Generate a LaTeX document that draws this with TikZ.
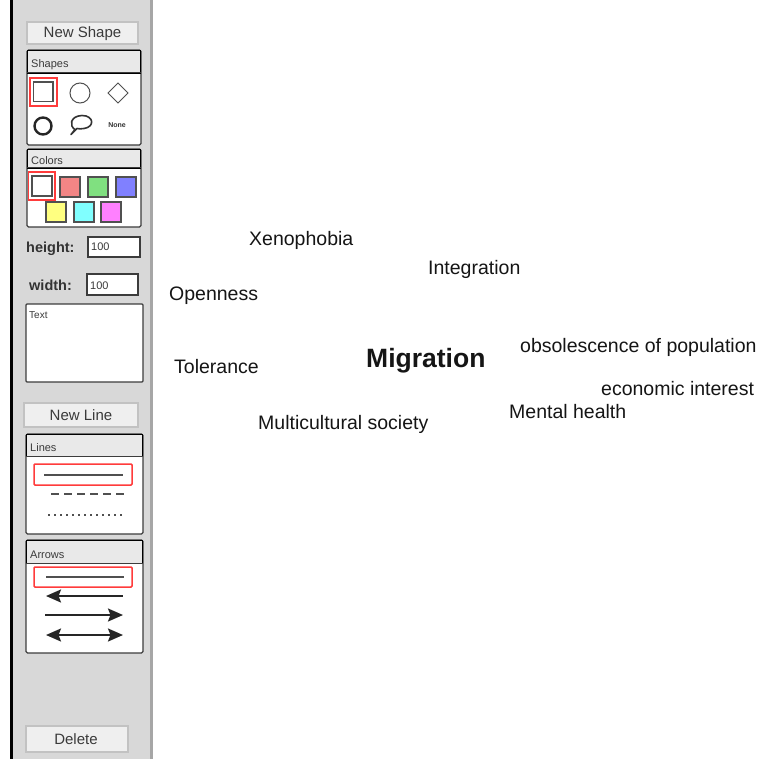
\documentclass[tikz,border=0pt]{standalone}
\usepackage{fontspec}
\setmainfont{Liberation Sans}
\usetikzlibrary{arrows.meta}
\definecolor{panelbg}{HTML}{D8D8D8}
\definecolor{btnfill}{HTML}{EFEFEF}
\definecolor{btnline}{HTML}{C2C2C2}
\definecolor{boxline}{HTML}{3C3C3C}
\definecolor{headfill}{HTML}{E9E9E9}
\definecolor{iconline}{HTML}{505050}
\definecolor{selred}{HTML}{FF3B3B}
\definecolor{uitext}{HTML}{3A3A3A}
\definecolor{wordtext}{HTML}{151515}
\definecolor{swred}{HTML}{F28585}
\definecolor{swgreen}{HTML}{80E080}
\definecolor{swblue}{HTML}{8080FF}
\definecolor{swyellow}{HTML}{FFFF80}
\definecolor{swcyan}{HTML}{80FFFF}
\definecolor{swmagenta}{HTML}{FF80FF}
\tikzset{
  button/.style={draw=btnline, line width=1.4pt, fill=btnfill},
  btnlabel/.style={text=uitext, font=\fontsize{15}{15}\selectfont, inner sep=0pt},
  toolbox/.style={draw=boxline, line width=1.2pt, fill=white, rounded corners=1.5pt},
  header/.style={fill=headfill},
  headlabel/.style={text=uitext, font=\fontsize{11}{11}\selectfont, anchor=base west, inner sep=0pt},
  field/.style={draw=boxline, line width=1.1pt, fill=white},
  fieldlabel/.style={text=uitext, font=\fontsize{11}{11}\selectfont, anchor=base west, inner sep=0pt},
  sellabel/.style={text=black!80, font=\bfseries\fontsize{14.5}{14.5}\selectfont, anchor=base west, inner sep=0pt},
  selbox/.style={draw=selred, line width=1.5pt},
  swatch/.style={draw=iconline, line width=1.1pt},
  icon/.style={draw=iconline, line width=1.2pt},
  sample/.style={draw=iconline, line width=2pt},
  arrowicon/.style={draw=black!85, line width=2pt, >={Stealth[length=15pt,width=13pt,inset=2.5pt]}},
  word/.style={text=wordtext, font=\fontsize{19.5}{19.5}\selectfont, anchor=base west, inner sep=0pt},
}
\begin{document}
\begin{tikzpicture}[x=1pt,y=-1pt]
\useasboundingbox (0,0) rectangle (762,759);
\fill[white] (0,0) rectangle (762,759);

% tool panel
\fill[panelbg] (12,0) rectangle (151,759);
\fill[black] (10,0) rectangle (12.5,759);
\fill[gray!70] (150,0) rectangle (153,759);

% New Shape button
\draw[button] (27,22) rectangle (138,44);
\node[btnlabel] (newshape) at (82.5,33.5) {New Shape};

% Shapes box
\draw[toolbox] (27,50) rectangle (141,145);
\draw[header] (27.6,50.6) rectangle (140.4,73);
\draw[boxline, line width=1pt] (27,73) -- (141,73);
\node[headlabel] (shapeshead) at (31,68) {Shapes};
\draw[selbox] (30,78) rectangle (57,106);
\draw[icon, line width=1.8pt] (33.5,82) rectangle (53,101.5);
\draw[icon, line width=1pt] (80,93) circle (10);
\draw[icon, line width=1pt] (118,83) -- (128,93) -- (118,103) -- (108,93) -- cycle;
\draw[icon, line width=2.4pt, draw=black!85] (43,126) circle (8.5);
\draw[icon, line width=1.6pt, draw=black!80, line join=round] (75,129.5)
  .. controls (69,126) and (70,116) .. (82,115.5)
  .. controls (94,115.5) and (95,127) .. (84,128.5)
  .. controls (81,129) and (79,129) .. (77,128.5)
  -- (71,134.5) -- (75,129.5);
\node[text=black!80, font=\bfseries\fontsize{7}{7}\selectfont, inner sep=0pt] (noneicon) at (117,125.5) {None};

% Colors box
\draw[toolbox] (27,149) rectangle (141,227);
\draw[header] (27.6,149.6) rectangle (140.4,168);
\draw[boxline, line width=1pt] (27,168) -- (141,168);
\node[headlabel] (colorshead) at (31,165) {Colors};
\draw[selbox] (28.5,172) rectangle (55,200);
\draw[swatch, fill=white] (32,176) rectangle (52,196);
\draw[swatch, fill=swred] (60,177) rectangle (80,197);
\draw[swatch, fill=swgreen] (88,177) rectangle (108,197);
\draw[swatch, fill=swblue] (116,177) rectangle (136,197);
\draw[swatch, fill=swyellow] (46,202) rectangle (66,222);
\draw[swatch, fill=swcyan] (74,202) rectangle (94,222);
\draw[swatch, fill=swmagenta] (101,202) rectangle (121,222);

% size fields
\node[sellabel] (heightlbl) at (26,252) {height:};
\draw[field] (88,237) rectangle (140,257);
\node[fieldlabel] (heightval) at (91,251) {100};
\node[sellabel] (widthlbl) at (29,290) {width:};
\draw[field] (87,274) rectangle (138,295);
\node[fieldlabel] (widthval) at (90,289) {100};

% text area
\draw[field, rounded corners=1pt] (26,304) rectangle (143,382);
\node[fieldlabel, font=\fontsize{10}{10}\selectfont] (textlbl) at (29,318) {Text};

% New Line button
\draw[button] (24,403) rectangle (138,427);
\node[btnlabel] (newline) at (81,415) {New Line};

% Lines box
\draw[toolbox] (26,434) rectangle (143,534);
\draw[header] (26.6,434.6) rectangle (142.4,456);
\draw[boxline, line width=1pt] (26,456) -- (143,456);
\node[headlabel] (lineshead) at (30,451) {Lines};
\draw[selbox, rounded corners=1pt] (34,464) rectangle (132,485);
\draw[sample] (44,474.5) -- (123,474.5);
\draw[sample, dash pattern=on 8pt off 5pt] (51,493.5) -- (124,493.5);
\draw[sample, line width=1.4pt, dash pattern=on 2pt off 4pt] (48,515) -- (124,515);

% Arrows box
\draw[toolbox] (26,540) rectangle (143,653);
\draw[header] (26.6,540.6) rectangle (142.4,563);
\draw[boxline, line width=1pt] (26,563) -- (143,563);
\node[headlabel] (arrowshead) at (30,558) {Arrows};
\draw[selbox, rounded corners=1pt] (34,567) rectangle (132,587);
\draw[sample] (46,577) -- (124,577);
\draw[arrowicon, <-] (46,596) -- (123,596);
\draw[arrowicon, ->] (45,615) -- (123,615);
\draw[arrowicon, <->] (46,635) -- (123,635);

% Delete button
\draw[button] (26,726) rectangle (128,752);
\node[btnlabel] (deletebtn) at (76,739) {Delete};

% canvas words
\node[word] (xenophobia) at (249,245) {Xenophobia};
\node[word] (integration) at (428,274) {Integration};
\node[word] (openness) at (169,300) {Openness};
\node[word] (tolerance) at (174,373.5) {Tolerance};
\node[word, font=\bfseries\fontsize{26.5}{26.5}\selectfont] (migration) at (366,367.5) {Migration};
\node[word] (obsolescence) at (520,352) {obsolescence of population};
\node[word] (economic) at (601,395.5) {economic interest};
\node[word] (mentalhealth) at (509,418) {Mental health};
\node[word] (multicultural) at (258,429.5) {Multicultural society};
\end{tikzpicture}
\end{document}
